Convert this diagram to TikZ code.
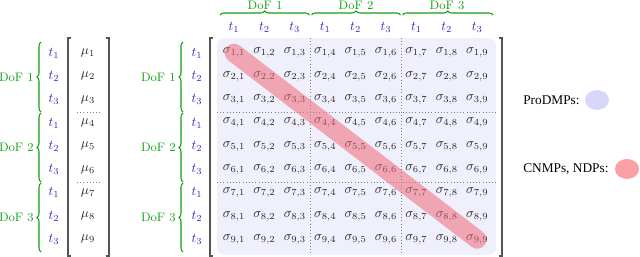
\documentclass[tikz,border=0pt]{standalone}
\usepackage{amsmath,amssymb}
\usepackage{fontspec}
\newfontfamily\legendfont{Liberation Serif}
\usetikzlibrary{decorations.pathreplacing,shapes.geometric}
\definecolor{dofgreen}{RGB}{20,160,20}
\definecolor{tblue}{RGB}{45,45,185}
\definecolor{bgblue}{RGB}{240,240,253}
\definecolor{legblue}{RGB}{215,215,250}
\definecolor{diagred}{RGB}{240,105,120}
\definecolor{legred}{RGB}{250,160,165}
\definecolor{brgray}{RGB}{85,85,85}

\begin{document}
\begin{tikzpicture}[x=0.75pt, y=-0.75pt,
  dof/.style={text=dofgreen, anchor=east, inner sep=0pt, font=\fontsize{9.2}{11}\selectfont},
  tlab/.style={text=tblue, inner sep=0pt},
  entry/.style={inner sep=0pt, text=black!85},
  brc/.style={decorate, decoration={brace, amplitude=3pt}, draw=dofgreen, thick},
  bracket/.style={draw=brgray, line width=1.1pt},
  sep/.style={dotted, draw=gray},
  diag/.style={draw=diagred, line width=14pt, line cap=round, opacity=0.55},
  legend/.style={font=\legendfont, anchor=west, inner sep=0pt},
  blob/.style={ellipse, minimum width=18pt, minimum height=15pt, inner sep=0pt}
]
\useasboundingbox (0,0) rectangle (640,257);

\fill[bgblue, rounded corners=6pt] (217,38) rectangle (496,255);

\foreach \k [count=\i] in {1,2,3,1,2,3,1,2,3} {
  \node[tlab] (lt-\i) at (54, {53+23.3*(\i-1)}) {$t_{\k}$};
  \node[tlab] (mt-\i) at (197, {53+23.3*(\i-1)}) {$t_{\k}$};
  \node[tlab] (tt-\i) at ({234+30.4*(\i-1)}, 27) {$t_{\k}$};
  \node[entry] (mu-\i) at (88, {53+23.3*(\i-1)}) {$\mu_{\i}$};
}

\foreach \i in {1,...,9} {
  \foreach \j in {1,...,9} {
    \node[entry] (s-\i-\j) at ({234+30.4*(\j-1)}, {53+23.3*(\i-1)}) {$\sigma_{\i,\j}$};
  }
}

\draw[sep] (77,112) -- (100,112);
\draw[sep] (77,182) -- (100,182);
\draw[sep] (217,112) -- (496,112);
\draw[sep] (217,182) -- (496,182);
\draw[sep] (310.5,38) -- (310.5,255);
\draw[sep] (401.5,38) -- (401.5,255);

\draw[bracket] (71,38) -- (68,38) -- (68,256) -- (71,256);
\draw[bracket] (106,38) -- (109,38) -- (109,256) -- (106,256);
\draw[bracket] (213,38) -- (210,38) -- (210,256) -- (213,256);
\draw[bracket] (499,38) -- (502,38) -- (502,256) -- (499,256);

\draw[brc] (41,112) -- (41,42);
\draw[brc] (41,182) -- (41,113);
\draw[brc] (41,252) -- (41,183);
\draw[brc] (183,112) -- (183,42);
\draw[brc] (183,182) -- (183,113);
\draw[brc] (183,252) -- (183,183);
\draw[brc] (220,15) -- (309.5,15);
\draw[brc] (311.5,15) -- (400.5,15);
\draw[brc] (402.5,15) -- (493,15);

\node[dof] (dl-1) at (34,77) {DoF 1};
\node[dof] (dl-2) at (34,147) {DoF 2};
\node[dof] (dl-3) at (34,217) {DoF 3};
\node[dof] (dm-1) at (176,77) {DoF 1};
\node[dof] (dm-2) at (176,147) {DoF 2};
\node[dof] (dm-3) at (176,217) {DoF 3};
\node[dof, anchor=center] (dt-1) at (265,5.5) {DoF 1};
\node[dof, anchor=center] (dt-2) at (356,5.5) {DoF 2};
\node[dof, anchor=center] (dt-3) at (447,5.5) {DoF 3};

\draw[diag] (s-1-1.center) -- (s-9-9.center);

\node[legend] (prodmp) at (523,100) {ProDMPs:};
\node[blob, fill=legblue] (prodmp-blob) at (597,100) {};
\node[legend] (cnmp) at (523,169) {CNMPs, NDPs:};
\node[blob, fill=legred] (cnmp-blob) at (627,169) {};
\end{tikzpicture}
\end{document}
